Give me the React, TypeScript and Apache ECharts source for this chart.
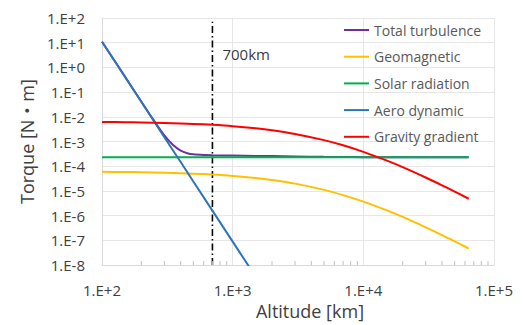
import React, { useEffect, useRef } from "react";
import * as echarts from "echarts";

// Altitude [km] sampling for geomagnetic, solar radiation and gravity gradient
const altitudes = [100, 150, 200, 300, 400, 500, 700, 1000, 1500, 2000, 3000, 5000, 7000, 10000, 15000, 20000, 30000, 40000, 50000, 64000];
const geomagnetic = [6.0e-5, 5.86e-5, 5.73e-5, 5.48e-5, 5.24e-5, 5.01e-5, 4.6e-5, 4.06e-5, 3.34e-5, 2.77e-5, 1.98e-5, 1.11e-5, 6.81e-6, 3.71e-6, 1.67e-6, 8.9e-7, 3.39e-7, 1.64e-7, 9.1e-8, 4.7e-8];
const solarRadiation = [2.3e-4, 2.3e-4, 2.3e-4, 2.3e-4, 2.3e-4, 2.3e-4, 2.3e-4, 2.3e-4, 2.3e-4, 2.3e-4, 2.3e-4, 2.3e-4, 2.3e-4, 2.3e-4, 2.3e-4, 2.3e-4, 2.3e-4, 2.3e-4, 2.3e-4, 2.3e-4];
const gravityGradient = [6.2e-3, 6.06e-3, 5.92e-3, 5.66e-3, 5.41e-3, 5.18e-3, 4.75e-3, 4.2e-3, 3.45e-3, 2.87e-3, 2.04e-3, 1.14e-3, 7.04e-4, 3.84e-4, 1.72e-4, 9.2e-5, 3.5e-5, 1.69e-5, 9.4e-6, 4.84e-6];

const aeroAltitudes = [100, 150, 200, 300, 400, 500, 700, 1000, 1400];
const aeroDynamic = [11, 0.42, 0.041, 1.5e-3, 1.49e-4, 2.4e-5, 1.6e-6, 8.9e-8, 5.9e-9];

const totalAltitudes = [100, 150, 200, 250, 300, 350, 400, 450, 500, 600, 700, 1000, 1500, 2000, 3000, 5000, 7000, 10000, 15000, 20000, 30000, 40000, 50000, 64000];
const totalTurbulence = [11, 0.42, 0.041, 6.99e-3, 1.79e-3, 7.2e-4, 4.31e-4, 3.38e-4, 3.04e-4, 2.84e-4, 2.78e-4, 2.71e-4, 2.63e-4, 2.58e-4, 2.5e-4, 2.41e-4, 2.37e-4, 2.34e-4, 2.32e-4, 2.31e-4, 2.3e-4, 2.3e-4, 2.3e-4, 2.3e-4];

const markerAltitude = [700];
const markerLabel = "700km";

const yTickLabels = ["1.E-8", "1.E-7", "1.E-6", "1.E-5", "1.E-4", "1.E-3", "1.E-2", "1.E-1", "1.E+0", "1.E+1", "1.E+2"];
const xTickLabels = ["1.E+2", "1.E+3", "1.E+4", "1.E+5"];
const xMinorTicks = [200, 300, 400, 500, 600, 700, 800, 900, 2000, 3000, 4000, 5000, 6000, 7000, 8000, 9000, 20000, 30000, 40000, 50000, 60000, 70000, 80000, 90000];

const seriesNames = ["Total turbulence", "Geomagnetic", "Solar radiation", "Aero dynamic", "Gravity gradient"];

const FONT = "'Open Sans', 'Noto Sans CJK JP', sans-serif";

function zip(xs: number[], ys: number[]) {
  return xs.map((x, i) => [x, ys[i]]);
}

export default function App() {
  const ref = useRef<HTMLDivElement>(null);
  useEffect(() => {
    if (!ref.current) return;
    const chart = echarts.init(ref.current, null, { renderer: "svg" });
    const lineCommon = { type: "line", symbol: "none", showSymbol: false, lineStyle: { width: 2 } };
    chart.setOption({
      animation: false,
      backgroundColor: "#ffffff",
      textStyle: { fontFamily: FONT },
      grid: { left: 102, right: 29, top: 18, bottom: 53, containLabel: false },
      legend: {
        data: seriesNames,
        orient: "vertical",
        left: 338,
        top: 18,
        itemWidth: 25,
        itemHeight: 14,
        itemGap: 12.7,
        itemStyle: { opacity: 0 },
        lineStyle: { width: 2 },
        textStyle: { fontSize: 14, color: "#595959", fontFamily: FONT },
      },
      xAxis: {
        type: "log",
        logBase: 10,
        min: 100,
        max: 100000,
        interval: 1,
        name: "Altitude [km]",
        nameLocation: "middle",
        nameGap: 33,
        nameTextStyle: { fontSize: 18, color: "#404040", fontFamily: FONT, padding: [0, 0, 0, 24] },
        axisLine: { show: true, lineStyle: { color: "#d9d9d9" } },
        axisTick: { show: false },
        axisLabel: {
          fontSize: 15,
          color: "#404040",
          margin: 17,
          fontFamily: FONT,
          formatter: (v: number) => xTickLabels[Math.round(Math.log10(v)) - 2] ?? "",
        },
        splitLine: { show: true, lineStyle: { color: "#e6e6e6", width: 1 } },
      },
      yAxis: {
        type: "log",
        logBase: 10,
        min: 1e-8,
        max: 100,
        interval: 1,
        name: "Torque [N・m]",
        nameLocation: "middle",
        nameGap: 66,
        nameTextStyle: { fontSize: 18, color: "#404040", fontFamily: FONT },
        axisLine: { show: true, lineStyle: { color: "#d9d9d9" } },
        axisTick: { show: false },
        axisLabel: {
          fontSize: 15,
          color: "#404040",
          margin: 17,
          fontFamily: FONT,
          formatter: (v: number) => yTickLabels[Math.round(Math.log10(v)) + 8] ?? "",
        },
        splitLine: { show: true, lineStyle: { color: "#e6e6e6", width: 1 } },
      },
      series: [
        {
          type: "custom",
          name: "minorTicks",
          silent: true,
          data: xMinorTicks.map((v) => [v, 1e-8]),
          renderItem: (_p: any, api: any) => {
            const pt = api.coord([api.value(0), api.value(1)]);
            return {
              type: "line",
              shape: { x1: pt[0], y1: pt[1], x2: pt[0], y2: pt[1] - 4 },
              style: { stroke: "#bfbfbf", lineWidth: 1 },
            };
          },
        },
        {
          type: "line",
          name: "marker",
          symbol: "none",
          silent: true,
          data: [[markerAltitude[0], 1e-8], [markerAltitude[0], 70]],
          lineStyle: { color: "#000000", width: 1.6, type: [7, 3, 1.5, 3] },
          z: 1,
        },
        {
          type: "scatter",
          name: "markerLabel",
          silent: true,
          symbolSize: 0,
          data: [[markerAltitude[0], 3.5]],
          label: {
            show: true,
            position: "right",
            distance: 10,
            formatter: markerLabel,
            fontSize: 15,
            color: "#000000",
            fontFamily: FONT,
          },
        },
        { ...lineCommon, name: seriesNames[0], data: zip(totalAltitudes, totalTurbulence), smooth: 0.3, color: "#7030A0", lineStyle: { width: 2, color: "#7030A0" } },
        { ...lineCommon, name: seriesNames[1], data: zip(altitudes, geomagnetic), smooth: 0.3, color: "#FFC000", lineStyle: { width: 2, color: "#FFC000" } },
        { ...lineCommon, name: seriesNames[2], data: zip(altitudes, solarRadiation), color: "#00B050", lineStyle: { width: 2, color: "#00B050" } },
        { ...lineCommon, name: seriesNames[3], data: zip(aeroAltitudes, aeroDynamic), color: "#2E75B6", lineStyle: { width: 2, color: "#2E75B6" } },
        { ...lineCommon, name: seriesNames[4], data: zip(altitudes, gravityGradient), smooth: 0.3, color: "#FF0000", lineStyle: { width: 2, color: "#FF0000" } },
      ],
    });
    return () => chart.dispose();
  }, []);
  return <div ref={ref} style={{ width: 523, height: 325, position: "absolute", left: 0, top: 0 }} />;
}
